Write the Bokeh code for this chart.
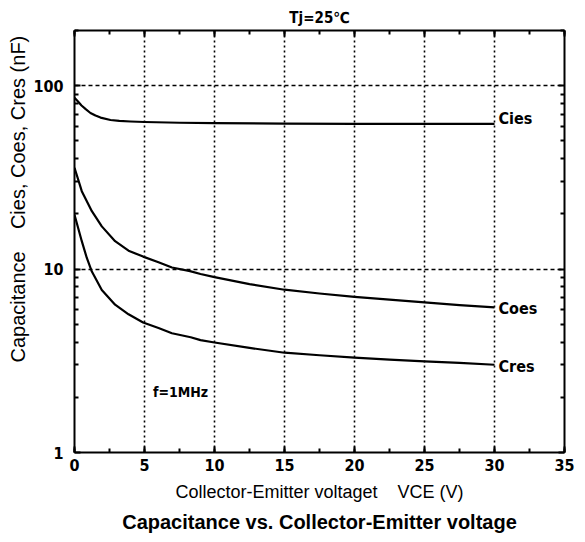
from bokeh.plotting import figure
from bokeh.models import (LinearAxis, LogAxis, SingleIntervalTicker, FixedTicker,
                          Title, Label, Range1d, BasicTickFormatter, ColumnDataSource)
from bokeh.embed import file_html
from bokeh.resources import INLINE
from bokeh.core.properties import value

# ---- data ----
cies_x = [0, 0.25, 0.5, 0.8, 1.14, 1.5, 1.86, 2.57, 3.2, 4, 5, 7.5, 10, 15, 20, 25, 30]
cies_y = [86, 82, 78, 74.5, 71, 68.8, 67, 65, 64.3, 63.8, 63.4, 62.8, 62.5, 62.2, 62, 62, 62]
coes_x = [0, 0.52, 1.24, 1.95, 2.9, 3.86, 4.9, 6.0, 6.96, 8.25, 9.0, 10, 12.5, 15,
          17.5, 20, 22.5, 25, 27.5, 30]
coes_y = [35.7, 26.6, 20.7, 17.1, 14.2, 12.6, 11.7, 10.9, 10.2, 9.75, 9.4, 9.05, 8.28, 7.72,
          7.36, 7.06, 6.81, 6.58, 6.36, 6.18]
cres_x = [0, 0.52, 0.88, 1.24, 1.95, 2.9, 3.86, 4.9, 6.0, 6.96, 8.3, 9.0, 10, 12.5, 15,
          17.5, 20, 22.5, 25, 27.5, 30]
cres_y = [19.8, 14.2, 11.5, 9.7, 7.7, 6.4, 5.67, 5.11, 4.77, 4.47, 4.25, 4.1, 3.98, 3.72, 3.50,
          3.39, 3.29, 3.21, 3.14, 3.08, 3.01]
series_names = ["Cies", "Coes", "Cres"]
y_major = [1, 10, 100]
y_minor = [2, 3, 4, 5, 6, 7, 8, 9, 20, 30, 40, 50, 60, 70, 80, 90, 200]

NARROW = "DejaVu Sans Condensed"
SANS = "Liberation Sans"

p = figure(width=585, height=542, x_range=Range1d(0, 35), y_range=Range1d(1, 200),
           y_axis_type="log", output_backend="svg", toolbar_location=None,
           min_border_left=74, min_border_right=21, min_border_top=30, min_border_bottom=90,
           background_fill_color="white", border_fill_color="white", outline_line_color=None)

p.title.text = "Tj=25\u2103"
p.title.align = "center"
p.title.vertical_align = "top"
p.title.text_font = NARROW
p.title.text_font_style = "bold"
p.title.text_font_size = "15px"
p.title.text_color = "black"
p.title.standoff = 4
p.title.offset = 8

xt = SingleIntervalTicker(interval=5, num_minor_ticks=2)
yt = FixedTicker(ticks=y_major, minor_ticks=y_minor)

xa = p.xaxis[0]
xa.ticker = xt
ya = p.yaxis[0]
ya.ticker = yt
ya.formatter = BasicTickFormatter()

for ax in (xa, ya):
    ax.major_tick_in = 6
    ax.major_tick_out = 0
    ax.minor_tick_in = 4
    ax.minor_tick_out = 0
    ax.axis_line_width = 2
    ax.major_tick_line_width = 2
    ax.minor_tick_line_width = 2
    ax.major_label_text_font = NARROW
    ax.major_label_text_font_style = "bold"
    ax.major_label_text_font_size = "16px"
    ax.major_label_text_color = "black"
xa.major_label_standoff = 6
ya.major_label_standoff = 11

xa.axis_label = "Collector-Emitter voltaget\u00a0\u00a0\u00a0\u00a0VCE (V)"
xa.axis_label_text_font = SANS
xa.axis_label_text_font_style = "normal"
xa.axis_label_text_font_size = "18px"
xa.axis_label_text_color = "black"
xa.axis_label_standoff = 8

top = LinearAxis(ticker=xt, major_label_text_font_size="1px", major_label_text_color=None,
                 major_label_standoff=0,
                 major_tick_in=6, major_tick_out=0, minor_tick_in=4, minor_tick_out=0,
                 axis_line_width=2, major_tick_line_width=2, minor_tick_line_width=2)
p.add_layout(top, "above")
right = LogAxis(ticker=yt, major_label_text_font_size="1px", major_label_text_color=None,
                major_label_standoff=0,
                major_tick_in=6, major_tick_out=0, minor_tick_in=4, minor_tick_out=0,
                axis_line_width=2, major_tick_line_width=2, minor_tick_line_width=2)
p.add_layout(right, "right")

p.xgrid.ticker = xt
p.xgrid.grid_line_color = "black"
p.xgrid.grid_line_dash = "2 3"
p.xgrid.grid_line_width = 1.6
p.ygrid.ticker = FixedTicker(ticks=[10, 100])
p.ygrid.grid_line_color = "black"
p.ygrid.grid_line_dash = "4 3"
p.ygrid.grid_line_width = 1.3

xs = [cies_x, coes_x, cres_x]
ys = [cies_y, coes_y, cres_y]
for x, y in zip(xs, ys):
    p.line(x, y, line_color="black", line_width=2.2, line_join="round")

src = ColumnDataSource(dict(x=[s[-1] for s in xs], y=[s[-1] for s in ys],
                            t=series_names, yo=[-5, 1, 2]))
p.text(x="x", y="y", text="t", source=src, x_offset=4, y_offset="yo",
       text_font=value(NARROW), text_font_style="bold", text_font_size="16px",
       text_baseline="middle", text_align="left", text_color="black")

p.add_layout(Label(x=5.6, y=2.15, text="f=1MHz", text_font=NARROW, text_font_style="bold",
                   text_font_size="14px", text_color="black",
                   text_baseline="middle", text_align="left"))

ylab = Title(text="Capacitance\u00a0\u00a0\u00a0\u00a0Cies, Coes, Cres (nF)", align="left", offset=90,
             text_font=SANS, text_font_style="normal", text_font_size="20px",
             text_color="black", standoff=4)
p.add_layout(ylab, "left")

cap = Title(text="Capacitance vs. Collector-Emitter voltage", align="center",
            text_font=SANS, text_font_style="bold", text_font_size="20px",
            text_color="black", standoff=8)
p.add_layout(cap, "below")

open("out.html", "w").write(file_html(p, INLINE))
